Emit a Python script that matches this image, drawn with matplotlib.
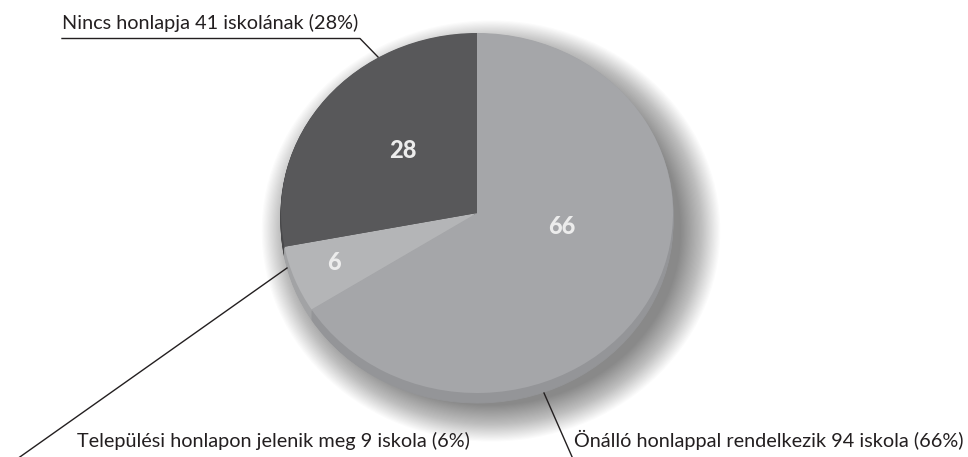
import numpy as np
import matplotlib
matplotlib.use("Agg")
import matplotlib.pyplot as plt
import matplotlib.transforms as mtransforms
from matplotlib.patches import Wedge, Circle

# ---- data ----
categories = ["Önálló honlappal rendelkezik 94 iskola (66%)",
              "Települési honlapon jelenik meg 9 iskola (6%)",
              "Nincs honlapja 41 iskolának (28%)"]
values = [66, 6, 28]
value_labels = ["66", "6", "28"]
top_colors = ["#a5a6a9", "#b4b5b7", "#58585a"]
side_colors = ["#949598", "#a2a3a5", "#48484a"]

W, H = 968, 457
CX, CY = 477, H - 213          # centre of the pie (data coords, y up)
RX, RY = 196, 180
DEPTH = 10


def tilt(dx=0.0, dy=0.0, kx=1.0, ky=1.0):
    return (mtransforms.Affine2D().scale(RX * kx, RY * ky).translate(CX + dx, CY + dy)
            + ax.transData)


fig = plt.figure(figsize=(W / 100, H / 100), dpi=100)
ax = fig.add_axes([0, 0, 1, 1])

wedges, _ = ax.pie(values, colors=top_colors, startangle=90, counterclock=False,
                   radius=1, center=(0, 0), wedgeprops=dict(linewidth=0))
ax.set_xlim(0, W)
ax.set_ylim(0, H)
ax.set_aspect("auto")
ax.axis("off")

# soft shadow
for k in np.linspace(1.17, 0.97, 34):
    c = Circle((0, 0), k, facecolor="black", edgecolor="none", alpha=0.014,
               transform=tilt(14, -18), zorder=1)
    ax.add_patch(c)

# side (thickness)
for dy in range(DEPTH, 0, -1):
    for w, col in zip(wedges, side_colors):
        sw = Wedge((0, 0), 1, w.theta1, w.theta2, facecolor=col, edgecolor=col,
                   linewidth=0.6, transform=tilt(0, -dy), zorder=2)
        ax.add_patch(sw)

for w in wedges:
    w.set_transform(tilt())
    w.set_zorder(3)

# value labels inside
label_pos = [(562, H - 227), (334, H - 263), (403, H - 151)]
for (x, y), t in zip(label_pos, value_labels):
    ax.text(x, y, t, color="#ececec", fontsize=17, fontweight="black",
            family="Lato", ha="center", va="center", zorder=5)

# outer labels + leader lines
tc = "#231f20"
fs = 14.3
ax.text(62, H - 29, categories[2], fontsize=fs, family="Lato", color=tc,
        ha="left", va="baseline")
ax.plot([62, 360, 378], [H - 38.5, H - 38.5, H - 57], color=tc, lw=1.0, zorder=6)

ax.text(77, H - 447, categories[1], fontsize=fs, family="Lato", color=tc,
        ha="left", va="baseline")
ax.plot([287, 17], [H - 268, H - 459], color=tc, lw=1.0, zorder=6)

ax.text(963, H - 447, categories[0], fontsize=fs, family="Lato", color=tc,
        ha="right", va="baseline")
ax.plot([544, 573], [H - 393, H - 459], color=tc, lw=1.0, zorder=6)

fig.savefig("out.png", dpi=100)
